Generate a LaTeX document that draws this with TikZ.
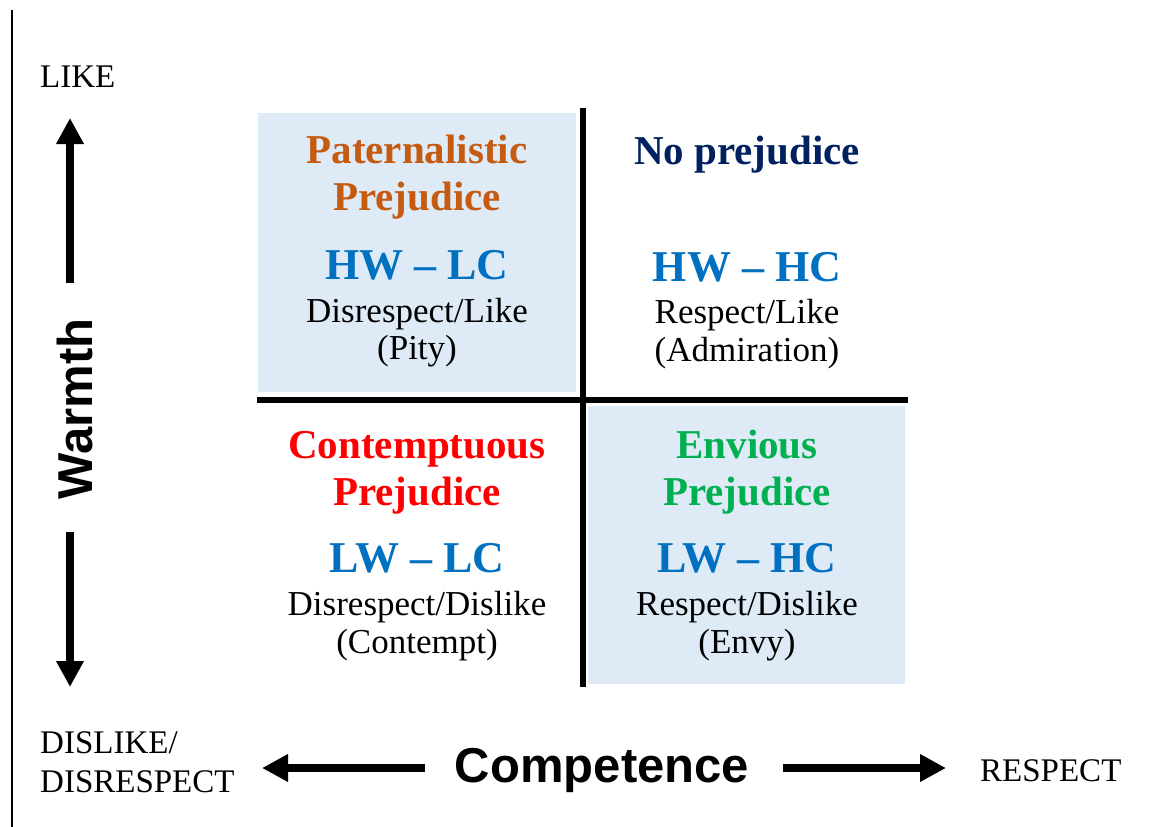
\documentclass[tikz,border=0pt]{standalone}
\usepackage{fontspec}
\setmainfont{Liberation Serif}
\newfontfamily\arialf{Liberation Sans}
\usetikzlibrary{arrows.meta}
\definecolor{qfill}{RGB}{222,234,246}
\definecolor{patcol}{RGB}{197,90,17}
\definecolor{nocol}{RGB}{0,32,96}
\definecolor{codeblue}{RGB}{0,112,192}
\definecolor{concol}{RGB}{255,0,0}
\definecolor{envcol}{RGB}{0,176,80}
\begin{document}
\begin{tikzpicture}[x=1pt,y=-1pt,
  titletxt/.style={font=\fontsize{41}{48}\selectfont\bfseries, anchor=base, inner sep=0pt},
  codetxt/.style={font=\fontsize{44}{50}\selectfont\bfseries, text=codeblue, anchor=base, inner sep=0pt},
  desctxt/.style={font=\fontsize{35}{40}\selectfont, anchor=base, inner sep=0pt},
  axistxt/.style={font=\fontsize{33}{38}\selectfont, anchor=base west, inner sep=0pt},
  dimtxt/.style={font=\arialf\fontsize{49}{54}\selectfont\bfseries, anchor=base, inner sep=0pt},
  bigarrow/.style={line width=8pt, -{Triangle[length=26pt,width=26pt]}},
  gridline/.style={line width=6pt},
  quadfill/.style={fill=qfill}]
\useasboundingbox (0,0) rectangle (1173,827);
% frame line at left
\coordinate (ft) at (12,10);
\coordinate (fb) at (12,827);
\draw[line width=1.5pt] (ft) -- (fb);
% shaded quadrants
\fill[quadfill] (258,113) rectangle (576,392);
\fill[quadfill] (588,406) rectangle (905,684);
% grid lines
\coordinate (vt) at (583,108);
\coordinate (vb) at (583,687);
\coordinate (hl) at (257,400);
\coordinate (hr) at (908,400);
\draw[gridline] (vt) -- (vb);
\draw[gridline] (hl) -- (hr);
% axis labels
\node[axistxt] (like) at (40,87) {LIKE};
\node[axistxt] (dis1) at (40,753) {DISLIKE/};
\node[axistxt] (dis2) at (40,792) {DISRESPECT};
\node[axistxt] (resp) at (980,781) {RESPECT};
\node[dimtxt] (comp) at (602,782) {Competence};
\node[dimtxt, rotate=90] (warm) at (92,409) {Warmth};
% arrows
\coordinate (ua) at (70,283);
\coordinate (ub) at (70,118);
\coordinate (da) at (70,532);
\coordinate (db) at (70,687);
\coordinate (la) at (425,768);
\coordinate (lb) at (262,768);
\coordinate (ra) at (783,768);
\coordinate (rb) at (946,768);
\draw[bigarrow] (ua) -- (ub);
\draw[bigarrow] (da) -- (db);
\draw[bigarrow] (la) -- (lb);
\draw[bigarrow] (ra) -- (rb);
% top-left
\node[titletxt, text=patcol] (tl1) at (417,163) {Paternalistic};
\node[titletxt, text=patcol] (tl2) at (417,210) {Prejudice};
\node[codetxt] (tl3) at (417,279) {HW \textendash{} LC};
\node[desctxt] (tl4) at (417,322) {Disrespect/Like};
\node[desctxt] (tl5) at (417,359) {(Pity)};
% top-right
\node[titletxt, text=nocol] (tr1) at (747,164) {No prejudice};
\node[codetxt] (tr3) at (747,281) {HW \textendash{} HC};
\node[desctxt] (tr4) at (747,323) {Respect/Like};
\node[desctxt] (tr5) at (747,361) {(Admiration)};
% bottom-left
\node[titletxt, text=concol] (bl1) at (417,458) {Contemptuous};
\node[titletxt, text=concol] (bl2) at (417,505) {Prejudice};
\node[codetxt] (bl3) at (417,572) {LW \textendash{} LC};
\node[desctxt] (bl4) at (417,615) {Disrespect/Dislike};
\node[desctxt] (bl5) at (417,653) {(Contempt)};
% bottom-right
\node[titletxt, text=envcol] (br1) at (747,458) {Envious};
\node[titletxt, text=envcol] (br2) at (747,505) {Prejudice};
\node[codetxt] (br3) at (747,572) {LW \textendash{} HC};
\node[desctxt] (br4) at (747,615) {Respect/Dislike};
\node[desctxt] (br5) at (747,653) {(Envy)};
\end{tikzpicture}
\end{document}
